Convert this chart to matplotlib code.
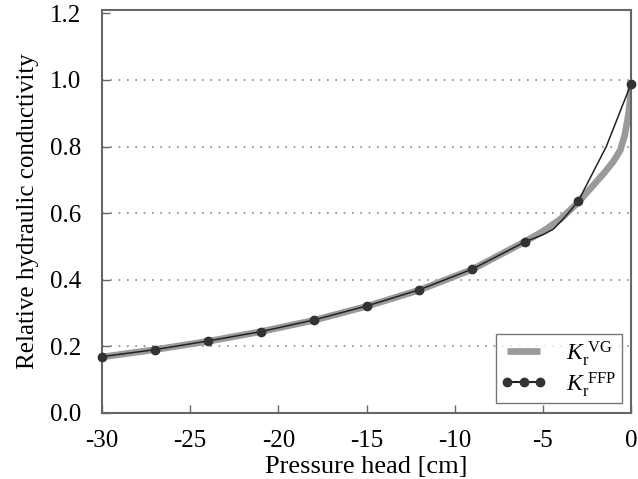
import matplotlib
matplotlib.use("Agg")
import matplotlib.pyplot as plt

plt.rcParams['font.family'] = ['Liberation Serif', 'DejaVu Serif']
plt.rcParams['mathtext.fontset'] = 'custom'
plt.rcParams['mathtext.rm'] = 'Liberation Serif'
plt.rcParams['mathtext.it'] = 'Liberation Serif:italic'
plt.rcParams['axes.unicode_minus'] = False
plt.rcParams['legend.numpoints'] = 3

# Van Genuchten relative conductivity (thick gray curve)
h_vg = [-30, -27, -24, -21, -18, -15, -12, -9, -6, -5, -4, -3, -2.5, -2, -1.5, -1, -0.6, -0.35, -0.15, -0.05, 0]
k_vg = [0.168, 0.190, 0.215, 0.244, 0.278, 0.320, 0.369, 0.431, 0.515, 0.545, 0.582, 0.632, 0.662, 0.692, 0.722, 0.755, 0.790, 0.835, 0.895, 0.94, 0.985]

# FFP markers
h_ffp = [-30, -27, -24, -21, -18, -15, -12, -9, -6, -3, 0]
k_ffp = [0.169, 0.190, 0.216, 0.244, 0.279, 0.321, 0.370, 0.432, 0.514, 0.635, 0.988]

# FFP thin line (denser)
h_ffp_line = [-30, -27, -24, -21, -18, -15, -12, -9, -6, -5, -4.4, -3.8, -3, -1.4, 0]
k_ffp_line = [0.169, 0.190, 0.216, 0.244, 0.279, 0.321, 0.370, 0.432, 0.514, 0.535, 0.552, 0.585, 0.635, 0.80, 0.988]

x_ticks = [-30, -25, -20, -15, -10, -5, 0]
y_ticks = [0.0, 0.2, 0.4, 0.6, 0.8, 1.0, 1.2]

fig = plt.figure(figsize=(6.38, 4.79), dpi=100)
ax = fig.add_axes([0.160, 0.138, 0.829, 0.841])

for yv in [0.2, 0.4, 0.6, 0.8, 1.0]:
    ax.axhline(yv, color='#888888', lw=1.2, ls=(0, (1, 4)), zorder=0)

ax.plot(h_vg, k_vg, color='#9a9a9a', lw=4.8, solid_capstyle='butt', zorder=2,
        label=r'$K_{\mathrm{r}}^{\ \mathrm{VG}}$')
ax.plot(h_ffp_line, k_ffp_line, color='#222222', lw=1.1, zorder=3)
ax.plot(h_ffp, k_ffp, ls='none', marker='o', ms=6, color='#333333', zorder=4, clip_on=False)
# legend proxy
ax.plot([], [], color='#222222', lw=1.5, marker='o', ms=6, mfc='#333333', mec='#333333',
        label=r'$K_{\mathrm{r}}^{\ \mathrm{FFP}}$')

ax.set_xlim(-30, 0)
ax.set_ylim(0, 1.21)
ax.set_xticks(x_ticks)
ax.set_xticklabels([str(v) for v in x_ticks])
ax.set_yticks(y_ticks)
ax.set_yticklabels(['%.1f' % v for v in y_ticks])
ax.tick_params(direction='in', length=6, width=1, color='#666666', labelsize=18)
ax.tick_params(axis='x', pad=12)
ax.tick_params(axis='y', pad=15)

for s in ax.spines.values():
    s.set_color('#666666')
    s.set_linewidth(1.5)

ax.set_xlabel('Pressure head [cm]', fontsize=19, labelpad=3)
ax.set_ylabel('Relative hydraulic conductivity', fontsize=18, labelpad=8)

leg = ax.legend(loc='lower right', fontsize=17, frameon=True, fancybox=False,
                edgecolor='#555555', handlelength=2.0, borderpad=0.2, labelspacing=0.1,
                handletextpad=0.8, borderaxespad=0.4, markerscale=1.0)
leg.get_frame().set_linewidth(1.0)

fig.savefig('out.png', dpi=100)
